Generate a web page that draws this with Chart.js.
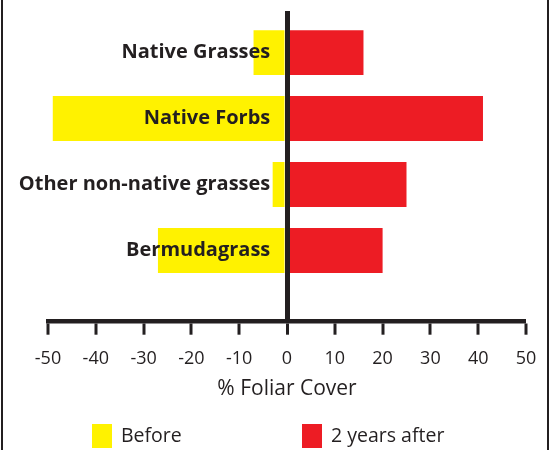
<!DOCTYPE html>
<html>
<head>
<meta charset="utf-8">
<script src="https://cdn.jsdelivr.net/npm/chart.js@4/dist/chart.umd.min.js"></script>
<style>
  html, body { margin: 0; padding: 0; background: #ffffff; overflow: hidden; }
  #wrap { position: relative; width: 555px; height: 450px; overflow: hidden; }
  #frame { position: absolute; left: 1px; top: -10px; width: 544px; height: 470px; border: 2px solid #231f20; border-top: none; border-bottom: none; pointer-events: none; }
  canvas { position: absolute; left: 0; top: 0; }
  .lg { position: absolute; font-family: "Open Sans", sans-serif; font-size: 19.5px; color: #231f20; line-height: 24px; white-space: nowrap; }
  .sw { position: absolute; width: 20px; height: 24px; }
</style>
</head>
<body>
<div id="wrap">
  <canvas id="c" width="555" height="450"></canvas>
  <div id="frame"></div>
  <div id="legend"></div>
</div>
<script>
const categories = ['Native Grasses', 'Native Forbs', 'Other non-native grasses', 'Bermudagrass'];
const beforeValues = [-7, -49, -3, -27];
const afterValues = [16, 41, 25, 20];
const xTickValues = [-50, -40, -30, -20, -10, 0, 10, 20, 30, 40, 50];
const seriesNames = ['Before', '2 years after'];
const seriesColors = ['#fff200', '#ed1c24'];
const axisTitle = '% Foliar Cover';

const dark = '#231f20';
const font = '"Open Sans", sans-serif';

const toPoints = vals => vals.map((v, i) => ({ x: v, y: i }));

const chart = new Chart(document.getElementById('c'), {
  type: 'bar',
  data: {
    datasets: [
      { label: seriesNames[0], data: toPoints(beforeValues), backgroundColor: seriesColors[0], borderWidth: 0, grouped: false, categoryPercentage: 0.68, barPercentage: 1 },
      { label: seriesNames[1], data: toPoints(afterValues), backgroundColor: seriesColors[1], borderWidth: 0, grouped: false, categoryPercentage: 0.68, barPercentage: 1 }
    ]
  },
  options: {
    indexAxis: 'y',
    responsive: false,
    animation: false,
    events: [],
    layout: { padding: { left: 48, right: 29, top: 11, bottom: 48.5 } },
    plugins: { legend: { display: false }, tooltip: { enabled: false } },
    scales: {
      x: {
        type: 'linear',
        min: xTickValues[0],
        max: xTickValues[xTickValues.length - 1],
        afterBuildTicks: s => { s.ticks = xTickValues.map(v => ({ value: v })); },
        grid: {
          display: true,
          drawOnChartArea: true,
          z: 1,
          lineWidth: ctx => (ctx.tick && ctx.tick.value === 0 ? 5 : 0),
          color: ctx => (ctx.tick && ctx.tick.value === 0 ? dark : 'rgba(0,0,0,0)'),
          drawTicks: true, tickLength: 13, tickWidth: 3, tickColor: dark
        },
        border: { display: true, width: 4.5, color: dark, z: 1 },
        ticks: { z: 1, color: dark, font: { family: font, size: 18 }, padding: 13, maxRotation: 0, autoSkip: false },
        title: { display: true, text: axisTitle, color: dark, font: { family: font, size: 21 }, padding: { top: -6, bottom: 0 } }
      },
      y: {
        type: 'linear',
        reverse: true,
        offset: false,
        bounds: 'data',
        min: -0.63,
        max: 4.08,
        position: { x: -3.5 },
        afterBuildTicks: s => { s.ticks = categories.map((_, i) => ({ value: i })); },
        grid: { display: false, drawTicks: false },
        border: { display: false },
        ticks: {
          z: 1,
          color: dark,
          font: { family: font, size: 20, weight: 'bold', lineHeight: 1 },
          padding: 0,
          autoSkip: false,
          callback: v => categories[v] !== undefined ? categories[v] : ''
        }
      }
    }
  }
});

// HTML legend built from the series arrays
const legend = document.getElementById('legend');
const legendPos = [{ box: 92, text: 121 }, { box: 302, text: 331 }];
seriesNames.forEach((name, i) => {
  const sw = document.createElement('div');
  sw.className = 'sw';
  sw.style.left = legendPos[i].box + 'px';
  sw.style.top = '424px';
  sw.style.background = seriesColors[i];
  legend.appendChild(sw);
  const t = document.createElement('div');
  t.className = 'lg';
  t.style.left = legendPos[i].text + 'px';
  t.style.top = '423px';
  t.textContent = name;
  legend.appendChild(t);
});
</script>
</body>
</html>
